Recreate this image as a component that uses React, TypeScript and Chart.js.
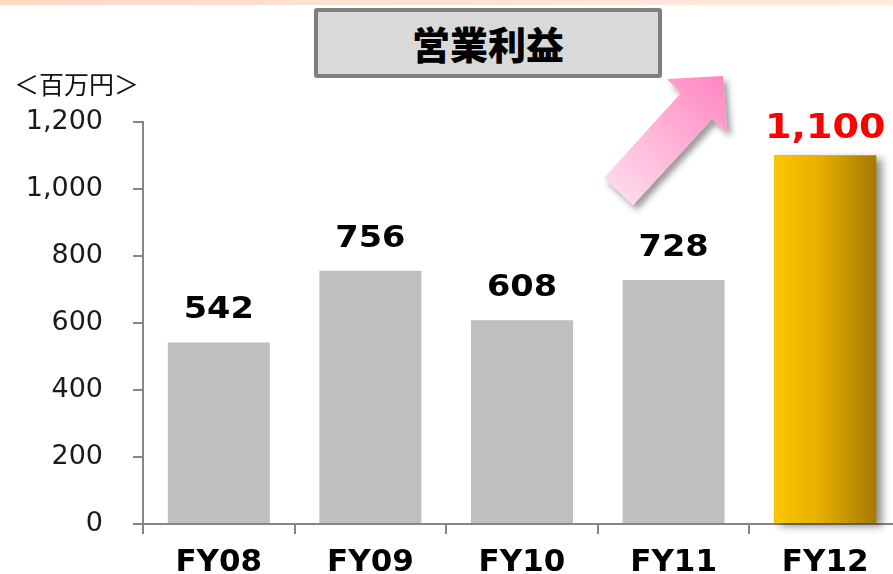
import React, { useEffect, useRef } from "react";
import { Chart, registerables } from "chart.js";

Chart.register(...registerables);

const categories = ["FY08", "FY09", "FY10", "FY11", "FY12"];
const operatingProfit = [542, 756, 608, 728, 1100];
const valueLabels = ["542", "756", "608", "728", "1,100"];
const yMax = 1200;
const yStep = 200;
const titleText = "営業利益";
const unitText = "＜百万円＞";

const BAR_PCT = 0.673;

const labelPlugin = {
  id: "valueLabels",
  beforeDatasetsDraw(chart: any) {
    const meta = chart.getDatasetMeta(0);
    const el = meta.data[4];
    if (!el) return;
    const ctx = chart.ctx;
    const w = el.width;
    ctx.save();
    ctx.shadowColor = "rgba(0,0,0,0.45)";
    ctx.shadowBlur = 8;
    ctx.shadowOffsetX = 6;
    ctx.shadowOffsetY = 3;
    ctx.fillStyle = "#b08000";
    ctx.fillRect(el.x - w / 2, el.y, w, el.base - el.y);
    ctx.restore();
  },
  afterDatasetsDraw(chart: any) {
    const meta = chart.getDatasetMeta(0);
    const ctx = chart.ctx;
    meta.data.forEach((el: any, i: number) => {
      const last = i === operatingProfit.length - 1;
      ctx.save();
      ctx.font = last ? "bold 34px 'DejaVu Sans'" : "bold 30px 'DejaVu Sans'";
      ctx.fillStyle = last ? "#ff0000" : "#000000";
      ctx.textAlign = "center";
      ctx.textBaseline = "alphabetic";
      ctx.translate(el.x, el.y - (last ? 18 : 24));
      ctx.scale(1.12, 1);
      ctx.fillText(valueLabels[i], 0, 0);
      ctx.restore();
    });
  },
};

export default function App() {
  const ref = useRef<HTMLCanvasElement | null>(null);

  useEffect(() => {
    if (!ref.current) return;
    const chart = new Chart(ref.current, {
      type: "bar",
      data: {
        labels: categories,
        datasets: [
          {
            data: operatingProfit,
            categoryPercentage: 1,
            barPercentage: BAR_PCT,
            borderWidth: 0,
            backgroundColor: (c: any) => {
              if (c.dataIndex !== 4) return "#bfbfbf";
              const ch = c.chart;
              const xs = ch.scales && ch.scales.x;
              if (!xs) return "#e0a800";
              const cx = xs.getPixelForValue(4);
              const half = (xs.width / categories.length) * BAR_PCT / 2;
              const g = ch.ctx.createLinearGradient(cx - half, 0, cx + half, 0);
              g.addColorStop(0, "#fcc800");
              g.addColorStop(0.45, "#e6ad00");
              g.addColorStop(1, "#a67a00");
              return g;
            },
          },
        ],
      },
      options: {
        responsive: false,
        animation: false,
        devicePixelRatio: 1,
        layout: { padding: { top: 122, right: 0, left: 0, bottom: 0 } },
        plugins: { legend: { display: false }, tooltip: { enabled: false } },
        scales: {
          x: {
            offset: true,
            afterFit: (s: any) => {
              s.height = 50;
            },
            grid: {
              display: true,
              drawOnChartArea: false,
              drawTicks: true,
              tickLength: 10,
              color: "#868686",
              lineWidth: 2,
              offset: true,
            },
            border: { display: true, color: "#868686", width: 2 },
            ticks: {
              color: "#000000",
              font: { family: "'DejaVu Sans'", size: 31, weight: "bold" },
              padding: 10,
              maxRotation: 0,
            },
          },
          y: {
            min: 0,
            max: yMax,
            afterFit: (s: any) => {
              s.width = 143;
            },
            grid: {
              display: true,
              drawOnChartArea: false,
              drawTicks: true,
              tickLength: 10,
              color: "#868686",
              lineWidth: 2,
            },
            border: { display: true, color: "#868686", width: 2 },
            ticks: {
              stepSize: yStep,
              color: "#1a1a1a",
              font: { family: "'DejaVu Sans'", size: 27, weight: "normal" },
              padding: 30,
            },
          },
        },
      },
      plugins: [labelPlugin],
    });
    return () => chart.destroy();
  }, []);

  return (
    <div
      style={{
        position: "absolute",
        left: 0,
        top: 0,
        width: 893,
        height: 574,
        overflow: "hidden",
        background: "#ffffff",
      }}
    >
      <div
        style={{
          position: "absolute",
          left: 0,
          top: 0,
          width: 893,
          height: 5,
          background: "linear-gradient(to right, #fcdac6, #fde3d5 50%, #fde9de)",
        }}
      />
      <canvas
        ref={ref}
        width={901}
        height={574}
        style={{ position: "absolute", left: 0, top: 0, width: 901, height: 574 }}
      />
      <div
        style={{
          position: "absolute",
          left: 314,
          top: 8,
          width: 348,
          height: 70,
          boxSizing: "border-box",
          border: "4px solid #7f7f7f",
          borderRadius: 3,
          background: "#d9d9d9",
          display: "flex",
          alignItems: "center",
          justifyContent: "center",
          fontFamily: "'Noto Sans CJK JP'",
          fontWeight: 900,
          fontSize: 38,
          color: "#000",
          lineHeight: 1,
        }}
      >
        {titleText}
      </div>
      <div
        style={{
          position: "absolute",
          left: 14,
          top: 68,
          fontFamily: "'Noto Sans CJK JP'",
          fontSize: 25,
          lineHeight: "30px",
          color: "#111",
          whiteSpace: "nowrap",
        }}
      >
        {unitText}
      </div>
      <svg
        width={893}
        height={574}
        style={{ position: "absolute", left: 0, top: 0, pointerEvents: "none" }}
      >
        <defs>
          <linearGradient id="arrowGrad" x1="604" y1="205" x2="725" y2="76" gradientUnits="userSpaceOnUse">
            <stop offset="0" stopColor="#fde3ee" />
            <stop offset="1" stopColor="#ff86c2" />
          </linearGradient>
          <filter id="arrowShadow" x="-20%" y="-20%" width="150%" height="150%">
            <feDropShadow dx="4" dy="5" stdDeviation="3" floodColor="#000" floodOpacity="0.4" />
          </filter>
        </defs>
        <polygon
          points="604,178 681,93 667,79 723,76 727,132 712,119 633,205"
          fill="url(#arrowGrad)"
          filter="url(#arrowShadow)"
        />
      </svg>
    </div>
  );
}
